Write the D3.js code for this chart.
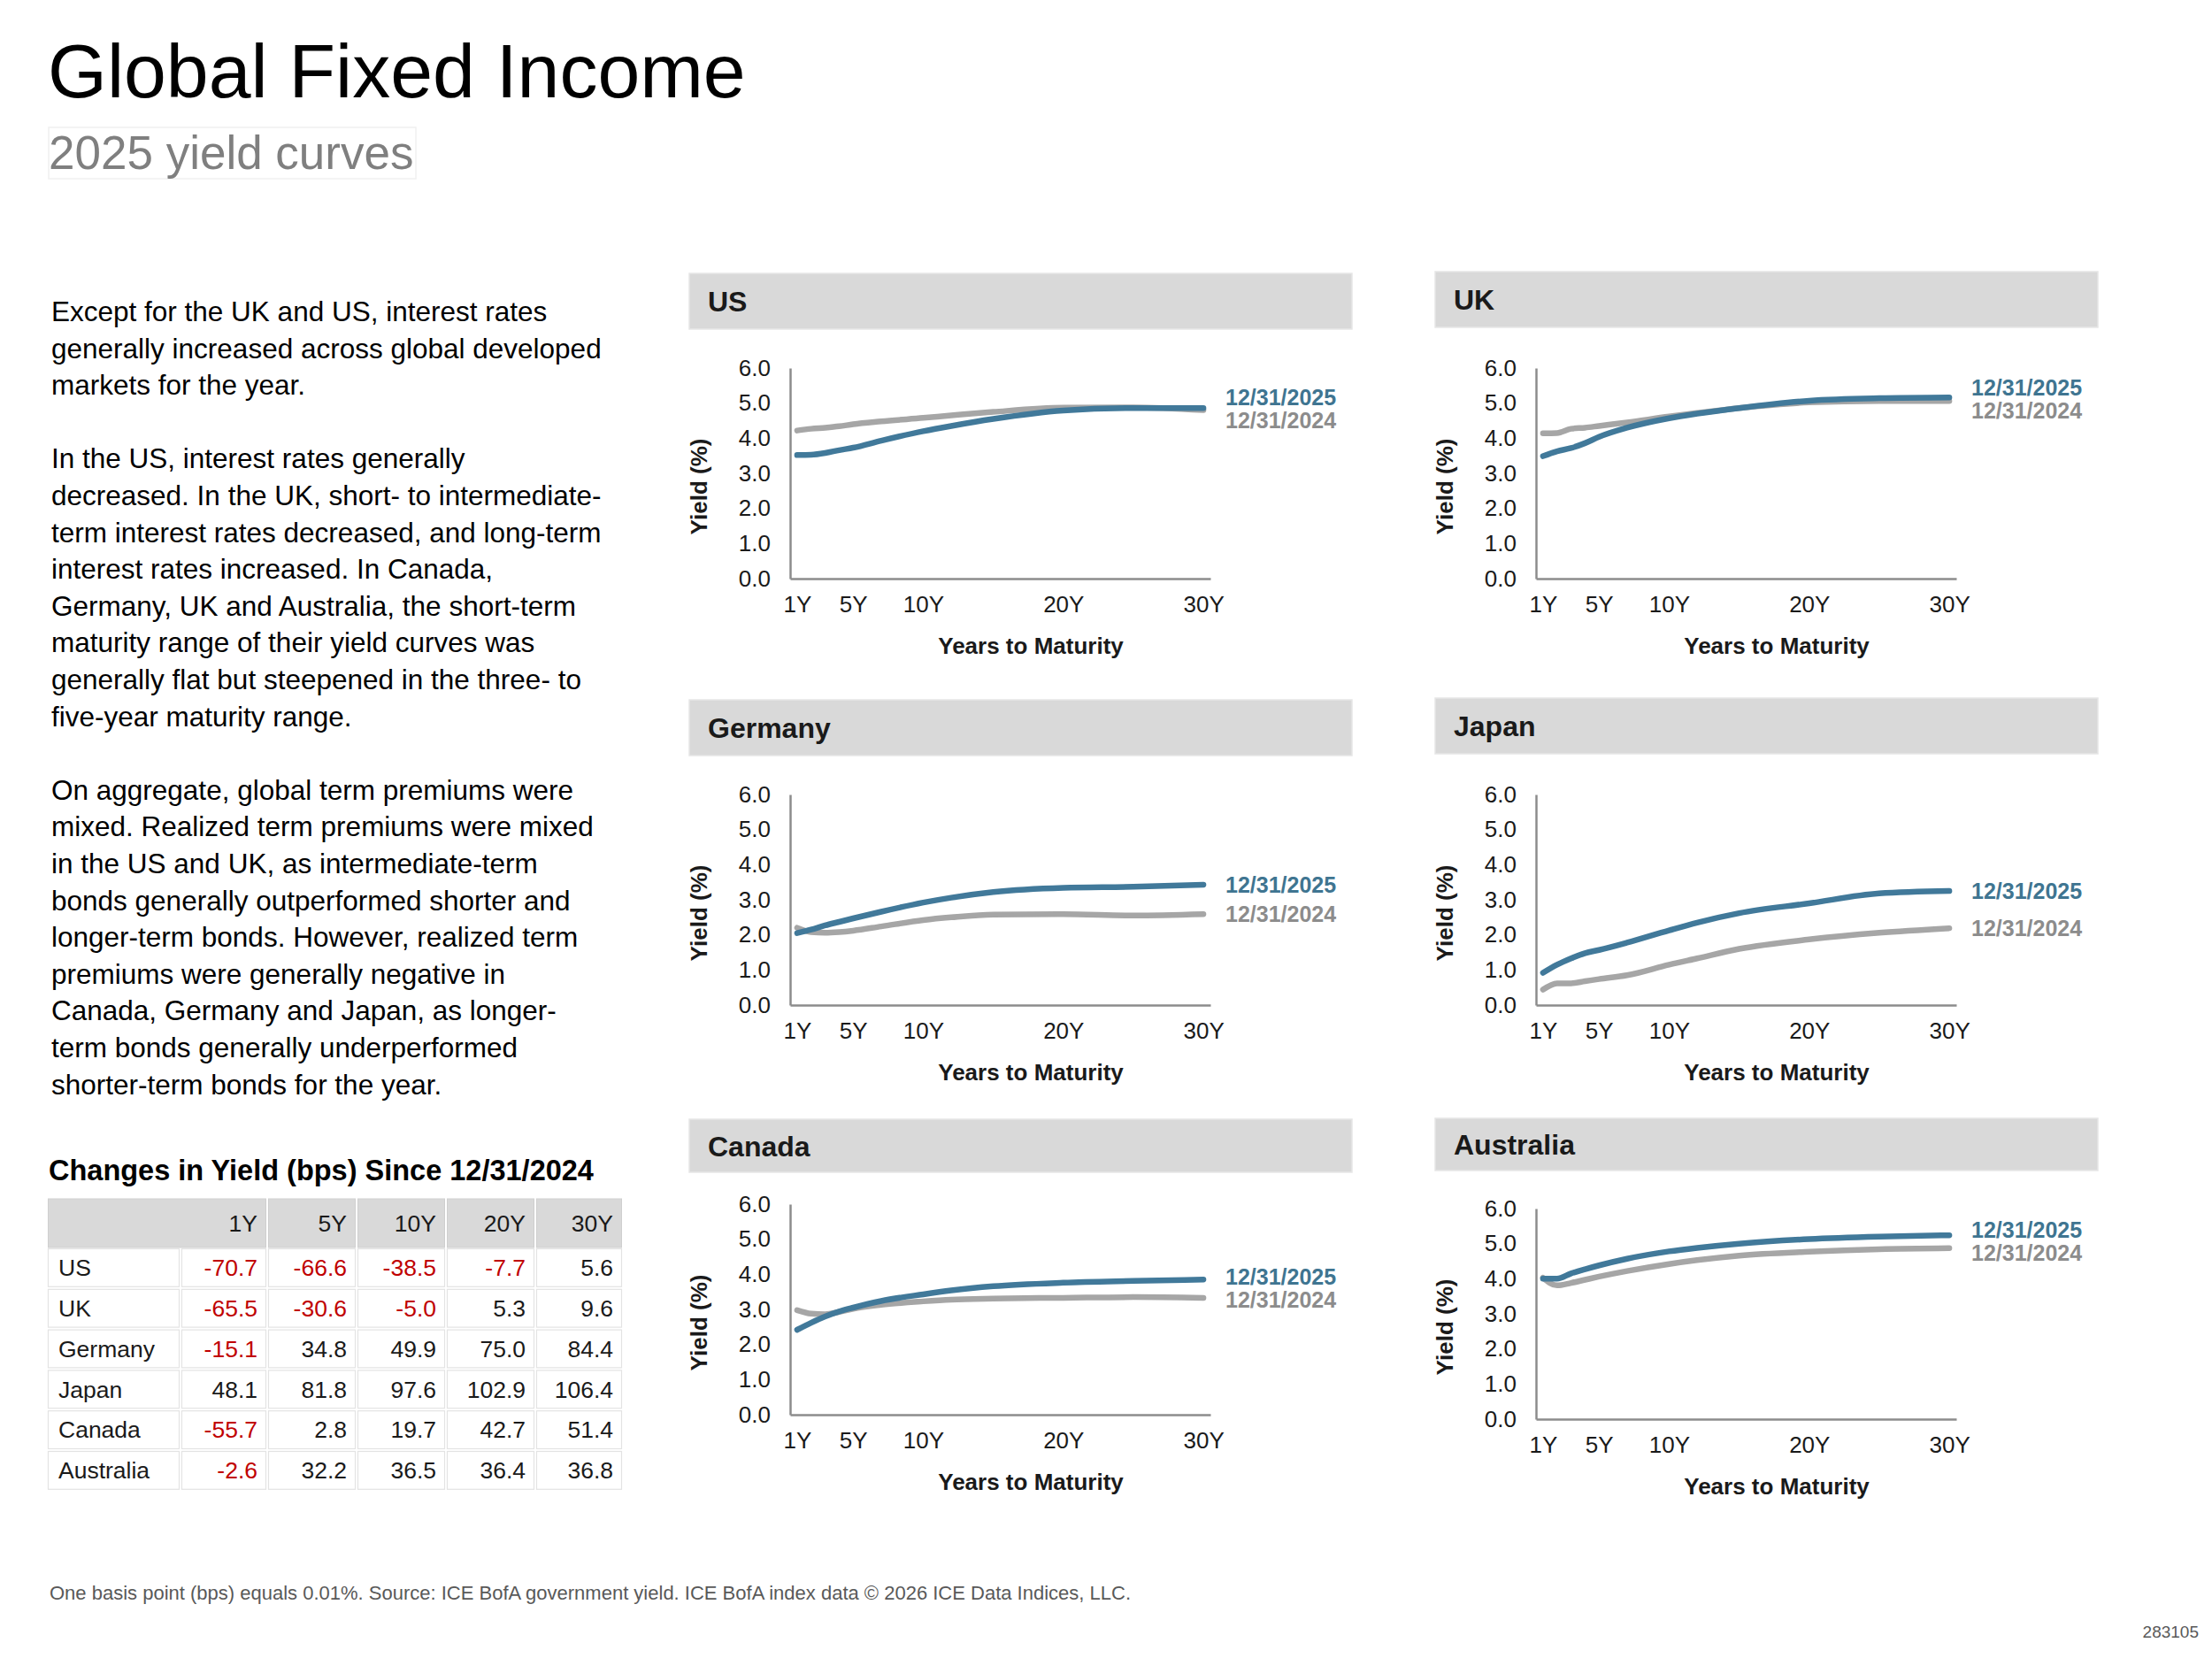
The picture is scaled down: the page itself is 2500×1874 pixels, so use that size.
<!DOCTYPE html>
<html>
<head>
<meta charset="utf-8">
<script src="https://cdn.jsdelivr.net/npm/d3@7"></script>
<style>
  body { margin: 0; background: #fff; }
  svg { display: block; font-family: "Liberation Sans", Arial, Helvetica, sans-serif; }
</style>
</head>
<body>
<svg id="page" width="2500" height="1874"></svg>
<script>
// ---- data ----
const maturities = [1, 2, 3, 4, 5, 7, 10, 12, 15, 20, 25, 30];

const us2025 = [3.52, 3.53, 3.58, 3.66, 3.73, 3.93, 4.20, 4.35, 4.55, 4.79, 4.86, 4.86];
const us2024 = [4.22, 4.27, 4.30, 4.34, 4.40, 4.48, 4.58, 4.65, 4.75, 4.87, 4.88, 4.80];
const uk2025 = [3.49, 3.63, 3.72, 3.86, 4.04, 4.30, 4.57, 4.70, 4.86, 5.07, 5.14, 5.16];
const uk2024 = [4.14, 4.15, 4.27, 4.30, 4.35, 4.45, 4.62, 4.72, 4.86, 5.02, 5.06, 5.06];
const de2025 = [2.05, 2.15, 2.27, 2.37, 2.47, 2.66, 2.92, 3.06, 3.22, 3.34, 3.37, 3.43];
const de2024 = [2.20, 2.08, 2.06, 2.08, 2.12, 2.24, 2.42, 2.50, 2.58, 2.59, 2.55, 2.59];
const jp2025 = [0.92, 1.15, 1.33, 1.48, 1.57, 1.78, 2.13, 2.35, 2.62, 2.90, 3.18, 3.25];
const jp2024 = [0.44, 0.62, 0.62, 0.68, 0.74, 0.85, 1.15, 1.33, 1.60, 1.87, 2.06, 2.19];
const ca2025 = [2.42, 2.62, 2.80, 2.94, 3.05, 3.24, 3.43, 3.54, 3.66, 3.76, 3.81, 3.85];
const ca2024 = [2.98, 2.88, 2.86, 2.93, 3.02, 3.13, 3.23, 3.28, 3.31, 3.33, 3.35, 3.33];
const au2025 = [4.00, 4.00, 4.15, 4.27, 4.38, 4.57, 4.78, 4.88, 5.00, 5.13, 5.20, 5.24];
const au2024 = [4.03, 3.81, 3.88, 3.97, 4.06, 4.22, 4.42, 4.53, 4.66, 4.77, 4.84, 4.87];

const countries = ["US", "UK", "Germany", "Japan", "Canada", "Australia"];
const curves2025 = [us2025, uk2025, de2025, jp2025, ca2025, au2025];
const curves2024 = [us2024, uk2024, de2024, jp2024, ca2024, au2024];
const seriesNames = ["12/31/2025", "12/31/2024"];

const xTicks = [1, 5, 10, 20, 30];
const yTicks = [0, 1, 2, 3, 4, 5, 6];

const tenors = ["1Y", "5Y", "10Y", "20Y", "30Y"];
const usChange = [-70.7, -66.6, -38.5, -7.7, 5.6];
const ukChange = [-65.5, -30.6, -5.0, 5.3, 9.6];
const deChange = [-15.1, 34.8, 49.9, 75.0, 84.4];
const jpChange = [48.1, 81.8, 97.6, 102.9, 106.4];
const caChange = [-55.7, 2.8, 19.7, 42.7, 51.4];
const auChange = [-2.6, 32.2, 36.5, 36.4, 36.8];
const changeRows = [usChange, ukChange, deChange, jpChange, caChange, auChange];

const bodyLines = [
  "Except for the UK and US, interest rates",
  "generally increased across global developed",
  "markets for the year.",
  "",
  "In the US, interest rates generally",
  "decreased. In the UK, short- to intermediate-",
  "term interest rates decreased, and long-term",
  "interest rates increased. In Canada,",
  "Germany, UK and Australia, the short-term",
  "maturity range of their yield curves was",
  "generally flat but steepened in the three- to",
  "five-year maturity range.",
  "",
  "On aggregate, global term premiums were",
  "mixed. Realized term premiums were mixed",
  "in the US and UK, as intermediate-term",
  "bonds generally outperformed shorter and",
  "longer-term bonds. However, realized term",
  "premiums were generally negative in",
  "Canada, Germany and Japan, as longer-",
  "term bonds generally underperformed",
  "shorter-term bonds for the year."
];

// ---- styles ----
const blue = "#41799a";
const gray = "#a6a6a6";
const blueText = "#3f7591";
const grayText = "#8c8c8c";
const axisColor = "#8c8c8c";
const red = "#c00000";

// plain hyphen for negatives, as in the table
const fmt = d3.formatLocale({ decimal: ".", thousands: ",", grouping: [3], currency: ["$", ""], minus: "-" }).format(".1f");

const svg = d3.select("#page");
svg.append("rect").attr("width", 2500).attr("height", 1874).style("fill", "#fff");

// title block
svg.append("text")
  .attr("x", 54).attr("y", 110)
  .style("font-size", "86px")
  .style("fill", "#000")
  .text("Global Fixed Income");

svg.append("rect")
  .attr("x", 55).attr("y", 144)
  .attr("width", 415).attr("height", 58)
  .style("fill", "none")
  .style("stroke", "#f0f0f0")
  .style("stroke-width", 1.5);

svg.append("text")
  .attr("x", 55).attr("y", 191)
  .style("font-size", "53px")
  .style("fill", "#7f7f7f")
  .text("2025 yield curves");

// commentary
svg.append("g").selectAll("text")
  .data(bodyLines)
  .join("text")
  .attr("x", 58)
  .attr("y", (d, i) => 363 + i * 41.6)
  .style("font-size", "31.5px")
  .style("fill", "#000")
  .text(d => d);

// ---- change table ----
svg.append("text")
  .attr("x", 55).attr("y", 1334)
  .style("font-size", "32.5px")
  .style("font-weight", "bold")
  .style("fill", "#000")
  .text("Changes in Yield (bps) Since 12/31/2024");

const colEdges = [53, 204, 302, 403, 504, 605, 704];
const headTop = 1355, headH = 55, rowH = 45.8;
const table = svg.append("g");

// header: first gray cell spans the label column and 1Y
const headEdges = [colEdges[0]].concat(colEdges.slice(2));
table.selectAll("rect.head")
  .data(d3.pairs(headEdges))
  .join("rect")
  .attr("class", "head")
  .attr("x", d => d[0] + 1.5)
  .attr("y", headTop)
  .attr("width", d => d[1] - d[0] - 3)
  .attr("height", headH)
  .style("fill", "#d9d9d9")
  .style("stroke", "#cfcfcf")
  .style("stroke-width", 1);

table.selectAll("text.head")
  .data(tenors)
  .join("text")
  .attr("class", "head")
  .attr("x", (d, i) => colEdges[i + 2] - 11)
  .attr("y", headTop + headH / 2)
  .attr("dy", "0.35em")
  .attr("text-anchor", "end")
  .style("font-size", "26.5px")
  .style("fill", "#1a1a1a")
  .text(d => d);

countries.forEach((c, r) => {
  const top = headTop + headH + r * rowH;
  const row = table.append("g");
  row.selectAll("rect")
    .data(d3.pairs(colEdges))
    .join("rect")
    .attr("x", d => d[0] + 1.5)
    .attr("y", top + 1.5)
    .attr("width", d => d[1] - d[0] - 3)
    .attr("height", rowH - 3)
    .style("fill", "#fff")
    .style("stroke", "#e3e3e3")
    .style("stroke-width", 1.2);
  row.append("text")
    .attr("x", colEdges[0] + 13)
    .attr("y", top + rowH / 2)
    .attr("dy", "0.35em")
    .style("font-size", "26.5px")
    .style("fill", "#1a1a1a")
    .text(c);
  row.selectAll("text.val")
    .data(changeRows[r])
    .join("text")
    .attr("class", "val")
    .attr("x", (d, i) => colEdges[i + 2] - 11)
    .attr("y", top + rowH / 2)
    .attr("dy", "0.35em")
    .attr("text-anchor", "end")
    .style("font-size", "26.5px")
    .style("fill", d => d < 0 ? red : "#1a1a1a")
    .text(d => fmt(d));
});

// ---- yield curve panels ----
const panelLayout = [
  { x0: 779, top: 309, headH: 63, axisTop: 416 },
  { x0: 1622, top: 307, headH: 63, axisTop: 416 },
  { x0: 779, top: 791, headH: 63, axisTop: 898 },
  { x0: 1622, top: 789, headH: 63, axisTop: 898 },
  { x0: 779, top: 1265, headH: 60, axisTop: 1361 },
  { x0: 1622, top: 1264, headH: 59, axisTop: 1366 }
];
const headW = 749, plotH = 238;

countries.forEach((c, k) => {
  const p = panelLayout[k];
  const g = svg.append("g");

  g.append("rect")
    .attr("x", p.x0).attr("y", p.top)
    .attr("width", headW).attr("height", p.headH)
    .style("fill", "#d9d9d9")
    .style("stroke", "#e6e6e6")
    .style("stroke-width", 1.5);

  g.append("text")
    .attr("x", p.x0 + 21)
    .attr("y", p.top + p.headH / 2)
    .attr("dy", "0.36em")
    .style("font-size", "32px")
    .style("font-weight", "bold")
    .style("fill", "#1a1a1a")
    .text(c);

  const x = d3.scaleLinear().domain([0.5, 30.5]).range([p.x0 + 114, p.x0 + 589]);
  const y = d3.scaleLinear().domain([0, 6]).range([p.axisTop + plotH, p.axisTop]);

  const yAxis = g.append("g")
    .attr("transform", `translate(${p.x0 + 114},0)`)
    .call(d3.axisLeft(y).tickValues(yTicks).tickSize(0).tickSizeOuter(0)
      .tickPadding(22).tickFormat(d3.format(".1f")));

  const xAxis = g.append("g")
    .attr("transform", `translate(0,${p.axisTop + plotH})`)
    .call(d3.axisBottom(x).tickValues(xTicks).tickSize(0).tickSizeOuter(0)
      .tickPadding(20).tickFormat(d => d + "Y"));

  [yAxis, xAxis].forEach(a => {
    a.select(".domain").style("stroke", axisColor).style("stroke-width", 2.5);
    a.selectAll("text")
      .style("font-size", "26px")
      .style("fill", "#1a1a1a")
      .style("font-family", "'Liberation Sans', Arial, sans-serif");
  });

  g.append("text")
    .attr("transform", `translate(${p.x0 + 11},${p.axisTop + plotH / 2 + 15}) rotate(-90)`)
    .attr("text-anchor", "middle")
    .attr("dy", "0.35em")
    .style("font-size", "26px")
    .style("font-weight", "bold")
    .style("fill", "#1a1a1a")
    .text("Yield (%)");

  g.append("text")
    .attr("x", p.x0 + 386)
    .attr("y", p.axisTop + plotH + 76)
    .attr("dy", "0.35em")
    .attr("text-anchor", "middle")
    .style("font-size", "26px")
    .style("font-weight", "bold")
    .style("fill", "#1a1a1a")
    .text("Years to Maturity");

  const line = d3.line()
    .x(d => x(d[0]))
    .y(d => y(d[1]))
    .curve(d3.curveMonotoneX);

  const s24 = d3.zip(maturities, curves2024[k]);
  const s25 = d3.zip(maturities, curves2025[k]);

  g.append("path").attr("d", line(s24))
    .style("fill", "none").style("stroke", gray)
    .style("stroke-width", 6.5).style("stroke-linecap", "round").style("stroke-linejoin", "round");
  g.append("path").attr("d", line(s25))
    .style("fill", "none").style("stroke", blue)
    .style("stroke-width", 6.5).style("stroke-linecap", "round").style("stroke-linejoin", "round");

  // end-of-line labels, pushed apart when they would overlap
  let yb = y(s25[s25.length - 1][1]);
  let yg = y(s24[s24.length - 1][1]);
  const gap = 26;
  if (Math.abs(yb - yg) < gap) {
    const mid = (yb + yg) / 2;
    if (yb <= yg) { yb = mid - gap / 2; yg = mid + gap / 2; }
    else { yg = mid - gap / 2; yb = mid + gap / 2; }
  }
  [[seriesNames[0], yb, blueText], [seriesNames[1], yg, grayText]].forEach(l => {
    g.append("text")
      .attr("x", p.x0 + 606)
      .attr("y", l[1])
      .attr("dy", "0.35em")
      .style("font-size", "25px")
      .style("font-weight", "bold")
      .style("fill", l[2])
      .text(l[0]);
  });
});

// footnote
svg.append("text")
  .attr("x", 56).attr("y", 1808)
  .style("font-size", "22px")
  .style("fill", "#595959")
  .text("One basis point (bps) equals 0.01%. Source: ICE BofA government yield. ICE BofA index data \u00a9 2026 ICE Data Indices, LLC.");

svg.append("text")
  .attr("x", 2485).attr("y", 1851)
  .attr("text-anchor", "end")
  .style("font-size", "19px")
  .style("fill", "#595959")
  .text("283105");
</script>
</body>
</html>
